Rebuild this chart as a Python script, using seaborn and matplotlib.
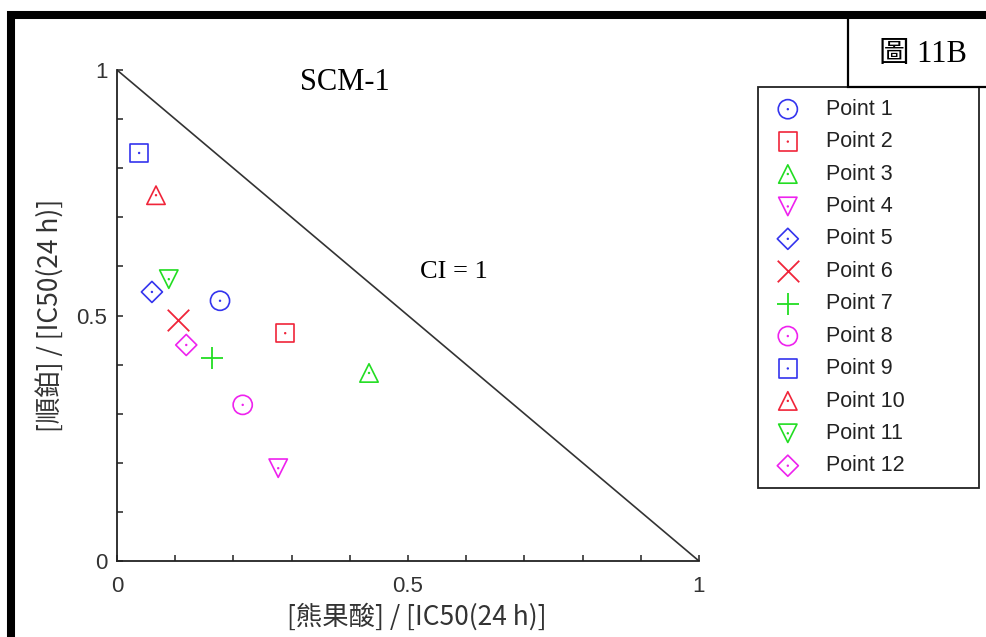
import matplotlib
matplotlib.use("Agg")
import matplotlib.pyplot as plt
import seaborn as sns
from matplotlib.patches import Rectangle
from matplotlib.legend_handler import HandlerTuple
from matplotlib.ticker import MultipleLocator

# ---- data ----
labels = ["Point 1", "Point 2", "Point 3", "Point 4", "Point 5", "Point 6",
          "Point 7", "Point 8", "Point 9", "Point 10", "Point 11", "Point 12"]
x_vals = [0.177, 0.289, 0.433, 0.277, 0.060, 0.105, 0.163, 0.216, 0.038, 0.067, 0.089, 0.119]
y_vals = [0.530, 0.464, 0.383, 0.189, 0.548, 0.491, 0.413, 0.318, 0.831, 0.745, 0.574, 0.440]
ci_x = [0, 1]
ci_y = [1, 0]
tick_vals = [0, 0.5, 1]
tick_labels = ["0", "0.5", "1"]
title_text = "SCM-1"
ci_text = "CI = 1"
fig_tag = "圖 11B"
x_label = "[熊果酸] / [IC50(24 h)]"
y_label = "[順鉑] / [IC50(24 h)]"

# ---- styles ----
BLUE, RED, GREEN, MAG = "#3434ee", "#f0253a", "#22dd22", "#ee22ee"
colors = [BLUE, RED, GREEN, MAG, BLUE, RED, GREEN, MAG, BLUE, RED, GREEN, MAG]
markers = ["o", "s", "^", "v", "D", "x", "+", "o", "s", "^", "v", "D"]
sizes = {"o": 190, "s": 175, "^": 175, "v": 175, "D": 115, "x": 240, "+": 240}

sns.set_theme(style="white")
plt.rcParams["font.family"] = ["Liberation Sans", "Noto Sans CJK TC"]

fig = plt.figure(figsize=(9.86, 6.37), dpi=100)
fig.patch.set_facecolor("white")
ax = fig.add_axes([117 / 986, 76 / 637, 582 / 986, 491 / 637])

sns.lineplot(x=ci_x, y=ci_y, ax=ax, color="#333333", linewidth=1.2, zorder=2)

handles = []
for xv, yv, lab, c, m in zip(x_vals, y_vals, labels, colors, markers):
    if m in ("x", "+"):
        sns.scatterplot(x=[xv], y=[yv], ax=ax, marker=m, s=sizes[m], color=c,
                        linewidth=1.3, label=lab, zorder=3)
        handles.append(ax.collections[-1])
    else:
        sns.scatterplot(x=[xv], y=[yv], ax=ax, marker=m, s=sizes[m], color=c,
                        facecolor="none", edgecolor=c, linewidth=1.2, label=lab, zorder=3)
        h_main = ax.collections[-1]
        sns.scatterplot(x=[xv], y=[yv], ax=ax, marker="o", s=3, color=c,
                        edgecolor="none", linewidth=0, zorder=3)
        h_dot = ax.collections[-1]
        handles.append((h_main, h_dot))

ax.set_xlim(0, 1)
ax.set_ylim(0, 1)
ax.set_xticks(tick_vals)
ax.set_xticklabels(tick_labels)
ax.set_yticks(tick_vals)
ax.set_yticklabels(tick_labels)
ax.xaxis.set_minor_locator(MultipleLocator(0.1))
ax.yaxis.set_minor_locator(MultipleLocator(0.1))
ax.tick_params(which="both", direction="in", length=4, width=1.1, color="#222222",
               bottom=True, left=True, top=False, right=False)
ax.tick_params(axis="x", pad=11, labelsize=16, labelcolor="#333333")
ax.tick_params(axis="y", pad=7, labelsize=16, labelcolor="#333333")
sns.despine(ax=ax)
for sp in ("left", "bottom"):
    ax.spines[sp].set_color("#222222")
    ax.spines[sp].set_linewidth(1.3)

cjk = ["Noto Sans CJK TC", "DejaVu Sans"]
ax.set_xlabel(x_label, family=cjk, fontsize=19, color="#333333")
ax.set_ylabel(y_label, family=cjk, fontsize=19, color="#333333")
ax.xaxis.set_label_coords(0.515, -0.085)
ax.yaxis.set_label_coords(-0.09, 0.5)

leg = ax.legend(handles, labels, handler_map={tuple: HandlerTuple(ndivide=1, pad=0)},
                loc="upper left", mode="expand", borderaxespad=0,
                bbox_to_anchor=(758 / 986, 1 - 87 / 637 - 0.01, (979 - 758) / 986, 0.01),
                bbox_transform=fig.transFigure, fontsize=15.5, labelspacing=0.53,
                borderpad=0.55, handlelength=1.67, handletextpad=0.93,
                frameon=True, fancybox=False, framealpha=1, edgecolor="#222222",
                labelcolor="#222222")
leg.get_frame().set_linewidth(1.3)

serif = ["Liberation Serif", "Noto Sans CJK TC"]
fig.text(345 / 986, 1 - 83 / 637, title_text, family=serif, fontsize=22,
         ha="center", va="center", color="black")
fig.text(454 / 986, 1 - 272 / 637, ci_text, family=serif, fontsize=19,
         ha="center", va="center", color="black")

# tag box
fig.add_artist(Rectangle((848 / 986, 1 - 87 / 637), 0.2, (87 - 15) / 637,
                         transform=fig.transFigure, fill=True, facecolor="white",
                         edgecolor="black", linewidth=1.6, clip_on=False, zorder=5))
fig.text(923 / 986, 1 - 55 / 637, fig_tag, family=serif, fontsize=22,
         ha="center", va="center", color="black", zorder=6)

# thick outer border
top = 1 - 15.5 / 637
fig.add_artist(Rectangle((11 / 986, -0.2), 1.2, top + 0.2,
                         transform=fig.transFigure, fill=False,
                         edgecolor="black", linewidth=5.8, clip_on=False, zorder=7))

fig.savefig("out.png", dpi=100)
